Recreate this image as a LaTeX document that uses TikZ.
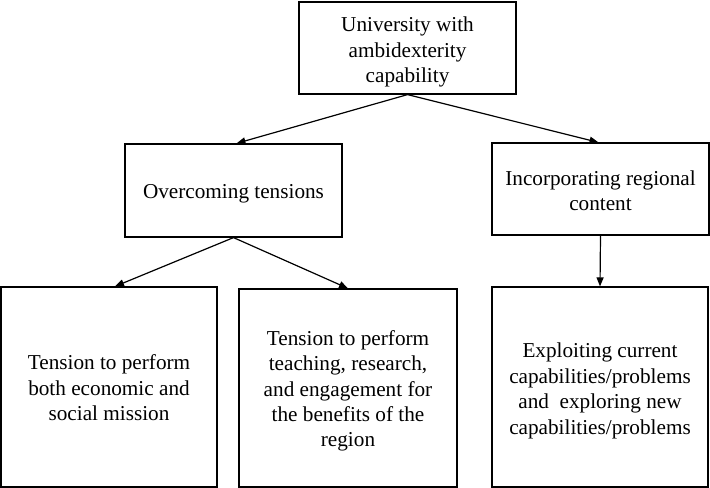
\documentclass[tikz,border=0pt]{standalone}
\usepackage{fontspec}
\setmainfont{Liberation Serif}
\usetikzlibrary{arrows.meta}
\begin{document}
\begin{tikzpicture}[x=1bp,y=-1bp,
  box/.style={draw=black, line width=1.2bp, inner sep=0pt},
  txt/.style={align=center, inner sep=0pt,
    font=\fontsize{21.3}{25.5}\selectfont},
  conn/.style={line width=1.2bp, -{Triangle[length=9bp,width=7bp]}}]
\useasboundingbox (0,0) rectangle (710,488);
\node[box, minimum width=217bp, minimum height=92bp] (top) at (407.5,48) {};
\node[box, minimum width=217bp, minimum height=93bp] (over) at (233.5,190.5) {};
\node[box, minimum width=217bp, minimum height=92bp] (inc) at (600.5,189) {};
\node[box, minimum width=216bp, minimum height=200bp] (bl) at (109,387) {};
\node[box, minimum width=218bp, minimum height=198bp] (bm) at (348,388) {};
\node[box, minimum width=216bp, minimum height=200bp] (br) at (600,387) {};
\node[txt] (toptext) at ([yshift=-4bp]top.center)
  {University with\\ambidexterity\\capability};
\node[txt] (overtext) at ([yshift=-3bp]over.center) {Overcoming tensions};
\node[txt] (inctext) at ([yshift=-2bp]inc.center) {Incorporating regional\\content};
\node[txt] (bltext) at ([yshift=-1bp]bl.center)
  {Tension to perform\\both economic and\\social mission};
\node[txt] (bmtext) at ([yshift=-3bp]bm.center)
  {Tension to perform\\teaching, research,\\and engagement for\\the benefits of the\\region};
\node[txt] (brtext) at ([yshift=-4bp]br.center)
  {Exploiting current\\capabilities/problems\\and~ exploring new\\capabilities/problems};
\draw[conn] (top.south) -- ([xshift=3bp]over.north);
\draw[conn] (top.south) -- ([xshift=-2bp]inc.north);
\draw[conn] (over.south) -- ([xshift=6bp]bl.north);
\draw[conn] (over.south) -- (bm.north);
\draw[conn] (inc.south) -- (br.north);
\end{tikzpicture}
\end{document}
